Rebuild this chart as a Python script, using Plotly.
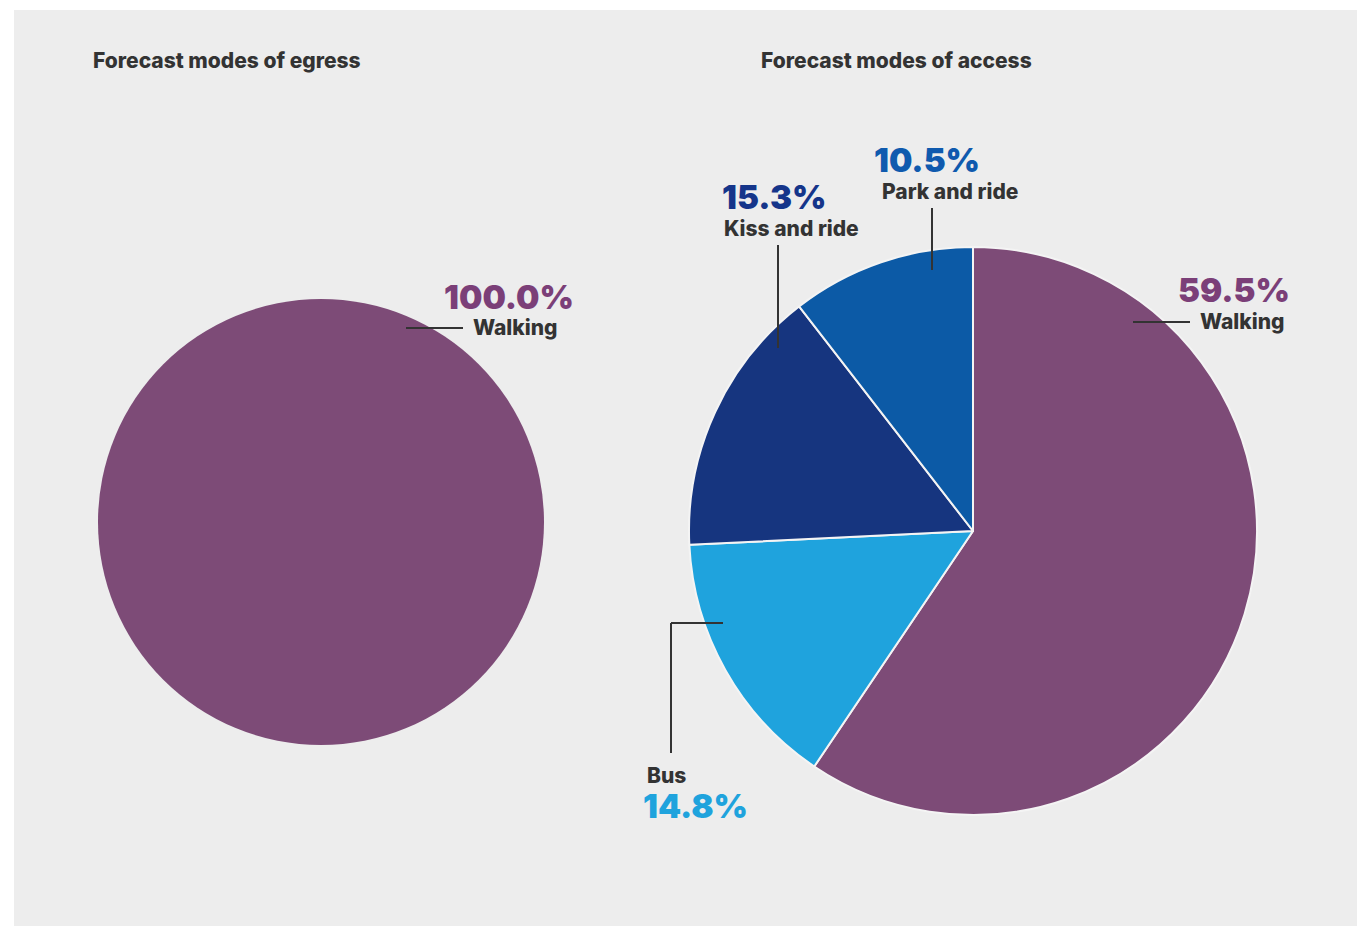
import plotly.graph_objects as go

W, H = 1357, 926

# Egress: single mode
egress_modes = ["Walking"]
egress_share = [100.0]

# Access: clockwise from 12 o'clock
access_modes = ["Walking", "Bus", "Kiss and ride", "Park and ride"]
access_share = [59.5, 14.8, 15.3, 10.5]

slice_colors = {
    "Walking": "#7d4b77",
    "Bus": "#1fa3dd",
    "Kiss and ride": "#16357f",
    "Park and ride": "#0c5aa6",
}
value_colors = {
    "Walking": "#7b3f78",
    "Bus": "#1fa3dd",
    "Kiss and ride": "#15358a",
    "Park and ride": "#0f5aae",
}

FONT = "Inter, 'Open Sans', Arial, sans-serif"
DARK = "#333333"
LABEL_SIZE = 21
VALUE_SIZE = 33


def px(x):
    return x / W


def py(y):
    return 1 - y / H


fig = go.Figure()

fig.add_trace(go.Pie(
    labels=egress_modes, values=egress_share, sort=False,
    direction="clockwise", textinfo="none", showlegend=False,
    marker=dict(colors=[slice_colors[m] for m in egress_modes], line=dict(width=0)),
    domain=dict(x=[px(98), px(544)], y=[py(745), py(299)]),
))

fig.add_trace(go.Pie(
    labels=access_modes, values=access_share, sort=False,
    direction="clockwise", rotation=0, textinfo="none", showlegend=False,
    marker=dict(colors=[slice_colors[m] for m in access_modes],
                line=dict(color="#f4f4f4", width=2)),
    domain=dict(x=[px(689), px(1257)], y=[py(815), py(247)]),
))

annotations = []
shapes = [
    # panel background
    dict(type="rect", xref="paper", yref="paper", x0=px(14), x1=1, y0=0, y1=py(10),
         fillcolor="#ededed", line=dict(width=0), layer="below"),
]


def text(x, y, s, size, color, weight, anchor="center"):
    annotations.append(dict(
        x=px(x), y=py(y), xref="paper", yref="paper", text=s, showarrow=False,
        xanchor=anchor, yanchor="middle",
        font=dict(family=FONT, size=size, color=color, weight=weight),
    ))


def line(points):
    for (x0, y0), (x1, y1) in zip(points[:-1], points[1:]):
        shapes.append(dict(type="line", xref="paper", yref="paper",
                           x0=px(x0), y0=py(y0), x1=px(x1), y1=py(y1),
                           line=dict(color=DARK, width=2)))


def pct(v):
    return f"{v:.1f}%"


# titles
text(91, 60, "Forecast modes of egress", 21, DARK, 800, "left")
text(759, 60, "Forecast modes of access", 21, DARK, 800, "left")

# egress label
text(509, 297, pct(egress_share[0]), VALUE_SIZE, value_colors["Walking"], 900)
text(515, 327, egress_modes[0], LABEL_SIZE, DARK, 800)
line([(406, 328), (463, 328)])

# access labels
share = dict(zip(access_modes, access_share))

text(1234, 290, pct(share["Walking"]), VALUE_SIZE, value_colors["Walking"], 900)
text(1242, 321, "Walking", LABEL_SIZE, DARK, 800)
line([(1133, 322), (1190, 322)])

text(720, 197, pct(share["Kiss and ride"]), VALUE_SIZE, value_colors["Kiss and ride"], 900, "left")
text(722, 228, "Kiss and ride", LABEL_SIZE, DARK, 800, "left")
line([(778, 348), (778, 245)])

text(872, 160, pct(share["Park and ride"]), VALUE_SIZE, value_colors["Park and ride"], 900, "left")
text(880, 191, "Park and ride", LABEL_SIZE, DARK, 800, "left")
line([(932, 270), (932, 208)])

text(645, 775, "Bus", LABEL_SIZE, DARK, 800, "left")
text(641, 806, pct(share["Bus"]), VALUE_SIZE, value_colors["Bus"], 900, "left")
line([(723, 623), (671, 623), (671, 753)])

fig.update_layout(
    width=W, height=H,
    margin=dict(l=0, r=0, t=0, b=0),
    paper_bgcolor="white",
    annotations=annotations,
    shapes=shapes,
)

fig.write_html("out.html")
